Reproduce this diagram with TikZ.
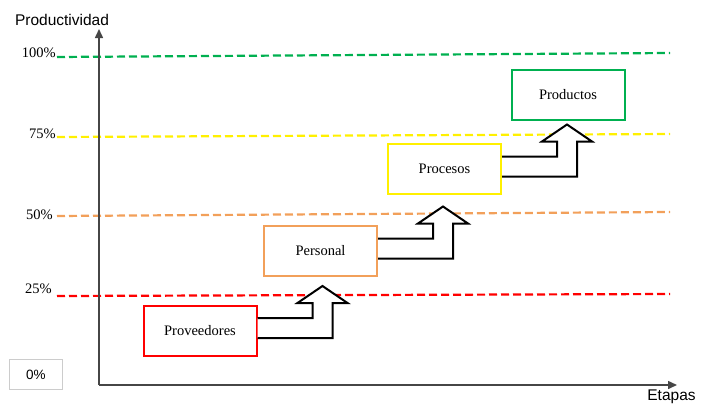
\documentclass[tikz,border=0pt]{standalone}
\usepackage{fontspec}
\setmainfont{Liberation Serif}
\setsansfont{Liberation Sans}
\usetikzlibrary{arrows.meta}
\definecolor{cgreen}{RGB}{0,176,80}
\definecolor{cyellow}{RGB}{255,240,0}
\definecolor{corange}{RGB}{242,160,90}
\definecolor{cred}{RGB}{255,0,0}
\definecolor{caxis}{RGB}{70,70,70}
\tikzset{
  level/.style={line width=2.2pt, dash pattern=on 8pt off 4pt},
  pct/.style={anchor=east, font=\fontsize{14.5}{14.5}\selectfont, inner sep=0pt},
  stagebox/.style={draw, line width=2pt, fill=white, minimum width=113pt, minimum height=50pt, font=\fontsize{14.5}{15}\selectfont},
  axis/.style={draw=caxis, line width=1.5pt, -{Triangle[width=8pt,length=9pt]}},
  axlabel/.style={font=\sffamily\fontsize{15.5}{15.5}\selectfont, inner sep=0pt},
  bentarrow/.pic={
    \draw[line width=2pt, fill=white, line join=miter]
      (0,-12.5) -- (55,-12.5) -- (55,-27.5) -- (40,-27.5) -- (65,-44.5)
      -- (90,-27.5) -- (75,-27.5) -- (75,7.5) -- (0,7.5);
  }
}
\begin{document}
\begin{tikzpicture}[x=1pt,y=-1pt]
\useasboundingbox (0,0) rectangle (710,405);
% level lines
\coordinate (g1) at (57,57);  \coordinate (g2) at (670,53);
\coordinate (y1) at (57,137); \coordinate (y2) at (670,134);
\coordinate (o1) at (57,216); \coordinate (o2) at (670,212);
\coordinate (r1) at (57,296); \coordinate (r2) at (670,294);
\draw[level, draw=cgreen] (g1) -- (g2);
\draw[level, draw=cyellow] (y1) -- (y2);
\draw[level, draw=corange] (o1) -- (o2);
\draw[level, draw=cred] (r1) -- (r2);
% percent labels
\node[pct] (p100) at (56,53) {100\%};
\node[pct] (p75) at (56,134) {75\%};
\node[pct] (p50) at (53,215) {50\%};
\node[pct] (p25) at (52,289) {25\%};
\node[draw=black!20, line width=0.6pt, minimum width=53pt, minimum height=30pt, font=\sffamily\fontsize{13.5}{14}\selectfont] (p0) at (36,374.5) {0\%};
% axes
\coordinate (origin) at (99,385);
\coordinate (ytip) at (99,29);
\coordinate (xtip) at (677,385);
\draw[axis] (origin) -- (ytip);
\draw[axis] (origin) -- (xtip);
\node[axlabel] (ylab) at (62,20) {Productividad};
\node[axlabel] (xlab) at (671.5,397) {Etapas};
% stage boxes
\node[stagebox, draw=cred] (prov) at (200,330.5) {Proveedores};
\node[stagebox, draw=corange] (pers) at (320.5,251) {Personal};
\node[stagebox, draw=cyellow] (proc) at (444.5,169) {Procesos};
\node[stagebox, draw=cgreen] (prod) at (568,94.5) {Productos};
% bent arrows
\pic at (prov.east) {bentarrow};
\pic at (pers.east) {bentarrow};
\pic at (proc.east) {bentarrow};
\end{tikzpicture}
\end{document}
